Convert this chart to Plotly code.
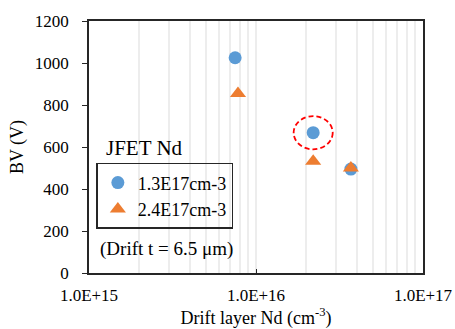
import plotly.graph_objects as go

# Data
nd_13 = [7.5e15, 2.2e16, 3.7e16]
bv_13 = [1025, 668, 495]
nd_24 = [7.8e15, 2.2e16, 3.7e16]
bv_24 = [855, 532, 500]
series_names = ["1.3E17cm-3", "2.4E17cm-3"]
x_major = [1e15, 1e16, 1e17]
x_major_labels = ["1.0E+15", "1.0E+16", "1.0E+17"]
x_minor = [m * 10 ** e for e in (15, 16) for m in range(2, 10)]
y_ticks = [0, 200, 400, 600, 800, 1000, 1200]
highlight_idx = 1
# highlight ring half-size: in decades (x) and volts (y)
ring_dx_dec = 0.117
ring_dy = 79

FONT = "Liberation Serif, Times New Roman, serif"
FRAME = "#262626"
GRID = "#EDEDED"

fig = go.Figure()
fig.add_trace(go.Scatter(x=nd_13, y=bv_13, mode="markers", name=series_names[0],
                         marker=dict(symbol="circle", size=13, color="#5B9BD5")))
fig.add_trace(go.Scatter(x=nd_24, y=bv_24, mode="markers", name=series_names[1],
                         marker=dict(symbol="triangle-up", size=14, color="#ED7D31")))

# dashed circle around highlighted point
hx, hy = nd_13[highlight_idx], bv_13[highlight_idx]
fig.add_shape(type="circle", xref="x", yref="y",
              x0=hx * 10 ** (-ring_dx_dec), x1=hx * 10 ** ring_dx_dec,
              y0=hy - ring_dy, y1=hy + ring_dy,
              line=dict(color="#FF0000", width=1.8, dash="5px,3px"))

fig.add_annotation(text="JFET Nd", xref="paper", yref="paper", x=0.045, y=0.44,
                   xanchor="left", yanchor="bottom", showarrow=False,
                   font=dict(family=FONT, size=21, color="#000000"))
fig.add_annotation(text="(Drift t = 6.5 μm)", xref="paper", yref="paper", x=0.028, y=0.095,
                   xanchor="left", yanchor="middle", showarrow=False,
                   font=dict(family=FONT, size=19, color="#000000"))

tickfont = dict(family=FONT, size=17, color="#000000")
fig.update_layout(
    width=455, height=329,
    margin=dict(l=89, r=32, t=21, b=56, autoexpand=False),
    paper_bgcolor="white", plot_bgcolor="white",
    font=dict(family=FONT, size=17, color="#000000"),
    showlegend=True,
    legend=dict(x=0.022, y=0.437, xanchor="left", yanchor="top",
                bordercolor=FRAME, borderwidth=1.5, bgcolor="rgba(0,0,0,0)",
                font=dict(family=FONT, size=18, color="#000000"), itemwidth=30,
                tracegroupgap=0),
)
fig.update_xaxes(type="log", range=[15, 17], tickvals=x_major, ticktext=x_major_labels,
                 ticks="inside", ticklen=4, tickcolor=FRAME, tickfont=tickfont,
                 showgrid=True, gridcolor=GRID, gridwidth=1.5,
                 minor=dict(tickvals=x_minor, showgrid=True, gridcolor=GRID, gridwidth=1.5, ticks=""),
                 showline=True, linecolor=FRAME, linewidth=1.6, mirror=True,
                 ticklabelstandoff=6, automargin=False,
                 title=dict(text="Drift layer Nd (cm<sup>-3</sup>)",
                            font=dict(family=FONT, size=18, color="#000000"), standoff=12))
fig.update_yaxes(range=[0, 1200], tickvals=y_ticks, ticks="outside", ticklen=5, tickcolor=FRAME,
                 tickfont=tickfont, showgrid=False, zeroline=False,
                 showline=True, linecolor=FRAME, linewidth=1.6, mirror=True,
                 ticklabelstandoff=10, automargin=False,
                 title=dict(text="BV (V)", font=dict(family=FONT, size=18, color="#000000"), standoff=6))

fig.write_html("out.html", config={"displayModeBar": False},
               post_script="document.body.style.margin='0';document.body.style.overflow='hidden';")
